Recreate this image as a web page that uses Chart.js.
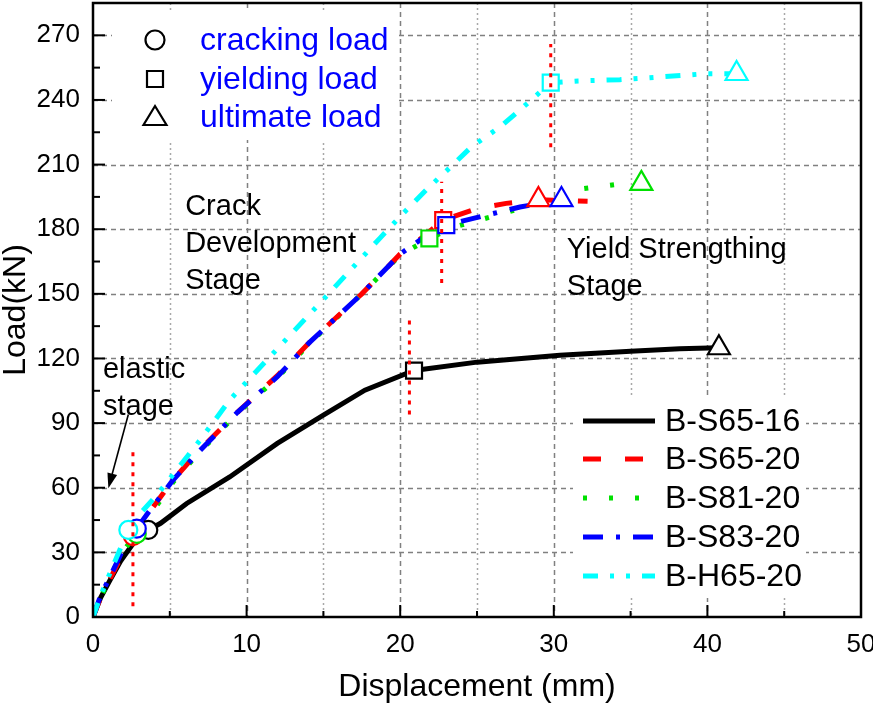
<!DOCTYPE html>
<html>
<head>
<meta charset="utf-8">
<title>Load - displacement curves</title>
<script src="https://cdn.jsdelivr.net/npm/chart.js@4.4.0/dist/chart.umd.min.js"></script>
<style>
  html, body { margin: 0; padding: 0; background: #fff; }
  #wrap { width: 873px; height: 703px; position: relative; }
</style>
</head>
<body>
<div id="wrap"><canvas id="loadChart"></canvas></div>
<script>
var FONT = "'Liberation Sans', Arial, Helvetica, sans-serif";

// axis ticks
var xTicks = [0, 10, 20, 30, 40, 50];
var xMinor = [5, 15, 25, 35, 45];
var yTicks = [0, 30, 60, 90, 120, 150, 180, 210, 240, 270];
var yMinor = [15, 45, 75, 105, 135, 165, 195, 225, 255];

// curves: displacement (mm) / load (kN)
var s6516X = [0, 0.5, 1.1, 1.8, 2.6, 3.6, 4.4, 6.1, 8.9, 12.0, 15.0, 17.7, 20.9, 25.0, 30.4, 35.0, 38.2, 40.7];
var s6516Y = [0, 9, 17, 26, 34, 40.4, 43.5, 52.7, 65, 80.6, 93.7, 105.3, 114.4, 118.3, 121.5, 123.3, 124.5, 125];

var s6520X = [0, 0.5, 1.2, 2.0, 2.6, 3.5, 5.2, 7.0, 9.4, 12.0, 14.1, 17.5, 20.0, 21.5, 22.8, 25.0, 26.9, 29.0, 32.2];
var s6520Y = [0, 9, 19, 30, 37.5, 47, 63.5, 78, 95, 112, 127.5, 150, 168.5, 176.5, 184.2, 189.6, 192, 193.7, 193];

var s8120X = [0, 0.5, 1.2, 2.0, 2.85, 3.6, 5.2, 7.0, 9.4, 12.0, 14.1, 17.5, 20.0, 21.9, 23.5, 26.3, 28.5, 31.0, 34.3, 35.7];
var s8120Y = [0, 9, 20, 31, 38.6, 46, 62.5, 77, 94.5, 111, 127, 150, 168, 175.7, 181, 186.5, 191, 198, 201, 201.2];

var s8320X = [0, 0.5, 1.2, 2.0, 2.85, 3.6, 5.2, 7.0, 9.4, 12.0, 14.1, 17.5, 20.0, 21.3, 23.0, 25.6, 27.8, 30.5];
var s8320Y = [0, 10, 20, 32, 41, 48.5, 63.5, 77.5, 95, 111.5, 127.5, 150, 168.5, 175, 181.9, 186.5, 190.3, 193.7];

var h6520X = [0, 0.5, 1.2, 2.3, 3.2, 4.25, 6.96, 8.9, 12.2, 15.4, 18.7, 20.2, 21.8, 23.4, 24.6, 26.5, 27.9, 29.8, 31.6, 34.3, 38.4, 39.9, 41.9];
var h6520Y = [0, 10, 22, 40.4, 49, 57.4, 82, 100.7, 126, 150.5, 176, 187.4, 199, 209.7, 218, 227.5, 236, 248, 248.8, 249.4, 251.4, 252.2, 252.2];

// characteristic points, order: S65-16, S65-20, S81-20, S83-20, H65-20
var crackX = [3.6, 2.6, 2.85, 2.85, 2.3];
var crackY = [40.4, 37.5, 38.6, 41, 40.4];
var yieldX = [20.9, 22.8, 21.9, 23.0, 29.8];
var yieldY = [114.4, 184.2, 175.7, 181.9, 248];
var ultX = [40.75, 29.0, 35.7, 30.5, 41.9];
var ultY = [124.9, 193.7, 201.2, 193.7, 252.2];

// red dotted stage dividers
var dividerX = [2.6, 20.6, 22.7, 29.8];
var dividerLow = [5, 94, 155, 218];
var dividerHigh = [78, 140, 202, 266];

var seriesNames = ['B-S65-16', 'B-S65-20', 'B-S81-20', 'B-S83-20', 'B-H65-20'];
var seriesColors = ['#000000', '#ff0000', '#00e000', '#0000ff', '#00ffff'];
var seriesDash = [[], [18, 24], [4, 22], [20, 13, 4, 13], [15, 12, 4, 12, 4, 12]];
// drawing order of the curves, bottom first
var curveOrder = [0, 2, 1, 3, 4];

var stageLabels = [
    { lines: ['Crack', 'Development', 'Stage'], x: 6.0, y: 190.5 },
    { lines: ['Yield Strengthing', 'Stage'], x: 30.85, y: 170.5 },
    { lines: ['elastic', 'stage'], x: 0.65, y: 114.5 }
];
var arrowFrom = [2.3, 94];
var arrowTo = [1.0, 59.8];

function pts(xs, ys) {
    return xs.map(function(x, i) { return { x: x, y: ys[i] }; });
}

function drawMarker(ctx, style, x, y, color) {
    ctx.save();
    ctx.strokeStyle = color;
    ctx.fillStyle = '#fff';
    ctx.lineWidth = 2.2;
    ctx.setLineDash([]);
    ctx.beginPath();
    if (style === 'circle') {
        ctx.arc(x, y, 9.5, 0, Math.PI * 2);
    } else if (style === 'rect') {
        ctx.rect(x - 8, y - 8, 16, 16);
    } else {
        ctx.moveTo(x, y - 11);
        ctx.lineTo(x + 11.5, y + 8);
        ctx.lineTo(x - 11.5, y + 8);
        ctx.closePath();
    }
    ctx.fill();
    ctx.stroke();
    ctx.restore();
}

var gridPlugin = {
    id: 'gridPlugin',
    beforeDatasetsDraw: function(chart) {
        var ctx = chart.ctx, xs = chart.scales.x, ys = chart.scales.y, a = chart.chartArea;
        ctx.save();
        ctx.lineWidth = 1.5;
        // minor vertical dotted
        ctx.strokeStyle = '#a8a8a8';
        ctx.setLineDash([2, 3]);
        xMinor.forEach(function(v) {
            var px = Math.round(xs.getPixelForValue(v)) + 0.5;
            ctx.beginPath(); ctx.moveTo(px, a.top); ctx.lineTo(px, a.bottom); ctx.stroke();
        });
        // major dashed
        ctx.strokeStyle = '#808080';
        ctx.setLineDash([5, 4]);
        xTicks.forEach(function(v) {
            if (v <= 0 || v >= 50) return;
            var px = Math.round(xs.getPixelForValue(v)) + 0.5;
            ctx.beginPath(); ctx.moveTo(px, a.top); ctx.lineTo(px, a.bottom); ctx.stroke();
        });
        yTicks.forEach(function(v) {
            if (v <= 0) return;
            var py = Math.round(ys.getPixelForValue(v)) + 0.5;
            ctx.beginPath(); ctx.moveTo(a.left, py); ctx.lineTo(a.right, py); ctx.stroke();
        });
        ctx.restore();
    },
    afterDatasetsDraw: function(chart) {
        var ctx = chart.ctx, xs = chart.scales.x, ys = chart.scales.y, a = chart.chartArea;
        ctx.save();
        // frame
        ctx.strokeStyle = '#000';
        ctx.lineWidth = 2.5;
        ctx.setLineDash([]);
        ctx.strokeRect(a.left, a.top, a.right - a.left, a.bottom - a.top);
        // inward ticks
        ctx.lineWidth = 2;
        xTicks.forEach(function(v) {
            var px = xs.getPixelForValue(v);
            ctx.beginPath(); ctx.moveTo(px, a.bottom); ctx.lineTo(px, a.bottom - 12); ctx.stroke();
        });
        xMinor.forEach(function(v) {
            var px = xs.getPixelForValue(v);
            ctx.beginPath(); ctx.moveTo(px, a.bottom); ctx.lineTo(px, a.bottom - 6); ctx.stroke();
        });
        yTicks.forEach(function(v) {
            var py = ys.getPixelForValue(v);
            ctx.beginPath(); ctx.moveTo(a.left, py); ctx.lineTo(a.left + 12, py); ctx.stroke();
        });
        yMinor.forEach(function(v) {
            var py = ys.getPixelForValue(v);
            ctx.beginPath(); ctx.moveTo(a.left, py); ctx.lineTo(a.left + 7, py); ctx.stroke();
        });

        // stage labels
        ctx.fillStyle = '#000';
        ctx.font = '29px ' + FONT;
        ctx.textBaseline = 'middle';
        ctx.textAlign = 'left';
        stageLabels.forEach(function(lab) {
            var px = xs.getPixelForValue(lab.x), py = ys.getPixelForValue(lab.y);
            lab.lines.forEach(function(t, i) { ctx.fillText(t, px, py + i * 37); });
        });

        // arrow for elastic stage
        var x0 = xs.getPixelForValue(arrowFrom[0]), y0 = ys.getPixelForValue(arrowFrom[1]);
        var x1 = xs.getPixelForValue(arrowTo[0]), y1 = ys.getPixelForValue(arrowTo[1]);
        var ang = Math.atan2(y1 - y0, x1 - x0);
        ctx.lineWidth = 1.6;
        ctx.beginPath(); ctx.moveTo(x0, y0); ctx.lineTo(x1 - Math.cos(ang) * 10, y1 - Math.sin(ang) * 10); ctx.stroke();
        ctx.beginPath();
        ctx.moveTo(x1, y1);
        ctx.lineTo(x1 - Math.cos(ang) * 15 + Math.sin(ang) * 5, y1 - Math.sin(ang) * 15 - Math.cos(ang) * 5);
        ctx.lineTo(x1 - Math.cos(ang) * 15 - Math.sin(ang) * 5, y1 - Math.sin(ang) * 15 + Math.cos(ang) * 5);
        ctx.closePath();
        ctx.fill();

        // marker legend (top left)
        ctx.fillStyle = '#fff';
        ctx.fillRect(112, 10, 286, 130);
        var mk = [['circle', 'cracking load'], ['rect', 'yielding load'], ['triangle', 'ultimate load']];
        var rowY = [40, 79, 117];
        ctx.font = '32px ' + FONT;
        mk.forEach(function(m, i) {
            drawMarker(ctx, m[0], 155, rowY[i], '#000');
            ctx.fillStyle = '#0000ff';
            ctx.fillText(m[1], 200, rowY[i] + 1);
        });

        // series legend (bottom right)
        ctx.fillStyle = '#fff';
        ctx.fillRect(573, 398, 233, 200);
        var legY = [421, 459, 498, 537, 576];
        seriesNames.forEach(function(name, i) {
            ctx.strokeStyle = seriesColors[i];
            ctx.lineWidth = 5;
            ctx.setLineDash(seriesDash[i]);
            ctx.beginPath(); ctx.moveTo(583, legY[i]); ctx.lineTo(655, legY[i]); ctx.stroke();
            ctx.setLineDash([]);
            ctx.fillStyle = '#000';
            ctx.fillText(name, 665, legY[i] + 1);
        });
        ctx.restore();
    }
};

document.addEventListener('DOMContentLoaded', function() {
    var datasets = [];

    // red dividers on top
    dividerX.forEach(function(x, i) {
        datasets.push({
            data: [{ x: x, y: dividerLow[i] }, { x: x, y: dividerHigh[i] }],
            showLine: true,
            borderColor: '#ff0000',
            borderWidth: 3,
            borderDash: [4, 6],
            pointRadius: 0
        });
    });

    // characteristic points
    var markerSets = [[crackX, crackY, 'circle', 9], [yieldX, yieldY, 'rect', 11.3], [ultX, ultY, 'triangle', 12.7]];
    markerSets.forEach(function(m) {
        for (var i = seriesNames.length - 1; i >= 0; i--) {
            datasets.push({
                data: [{ x: m[0][i], y: m[1][i] }],
                showLine: false,
                pointStyle: m[2],
                pointRadius: m[3],
                pointBorderWidth: 2.2,
                pointBorderColor: seriesColors[i],
                pointBackgroundColor: '#fff'
            });
        }
    });

    // curves, top one first
    var curveX = [s6516X, s6520X, s8120X, s8320X, h6520X];
    var curveY = [s6516Y, s6520Y, s8120Y, s8320Y, h6520Y];
    for (var k = curveOrder.length - 1; k >= 0; k--) {
        var i = curveOrder[k];
        datasets.push({
            label: seriesNames[i],
            data: pts(curveX[i], curveY[i]),
            showLine: true,
            borderColor: seriesColors[i],
            borderWidth: 5,
            borderDash: seriesDash[i],
            pointRadius: 0,
            tension: 0
        });
    }

    var ctx = document.getElementById('loadChart').getContext('2d');
    var loadChart = new Chart(ctx, {
        type: 'scatter',
        data: { datasets: datasets },
        options: {
            responsive: true,
            maintainAspectRatio: false,
            animation: false,
            devicePixelRatio: 1,
            layout: { autoPadding: false, padding: { top: 3, right: 12, left: 0, bottom: 0 } },
            plugins: { legend: { display: false }, tooltip: { enabled: false } },
            scales: {
                x: {
                    type: 'linear',
                    min: 0,
                    max: 50,
                    afterBuildTicks: function(scale) {
                        scale.ticks = xTicks.map(function(v) { return { value: v }; });
                    },
                    afterFit: function(scale) {
                        scale.height = 86;
                        scale.paddingLeft = 0;
                        scale.paddingRight = 0;
                    },
                    grid: { display: false, drawTicks: false },
                    border: { display: false },
                    ticks: {
                        autoSkip: false,
                        maxRotation: 0,
                        padding: 12,
                        color: '#000',
                        font: { family: FONT, size: 26 }
                    },
                    title: {
                        display: true,
                        text: 'Displacement (mm)',
                        color: '#000',
                        font: { family: FONT, size: 32, lineHeight: 1 },
                        padding: { top: 0, bottom: 0 }
                    }
                },
                y: {
                    type: 'linear',
                    min: 0,
                    max: 285,
                    afterBuildTicks: function(scale) {
                        scale.ticks = yTicks.map(function(v) { return { value: v }; });
                    },
                    afterFit: function(scale) {
                        scale.width = 93;
                        scale.paddingTop = 0;
                        scale.paddingBottom = 0;
                    },
                    grid: { display: false, drawTicks: false },
                    border: { display: false },
                    ticks: {
                        autoSkip: false,
                        padding: 13,
                        color: '#000',
                        font: { family: FONT, size: 26 }
                    },
                    title: {
                        display: true,
                        text: 'Load(kN)',
                        color: '#000',
                        font: { family: FONT, size: 32, lineHeight: 1 },
                        padding: { top: 0, bottom: 0 }
                    }
                }
            }
        },
        plugins: [gridPlugin]
    });
});
</script>
</body>
</html>
